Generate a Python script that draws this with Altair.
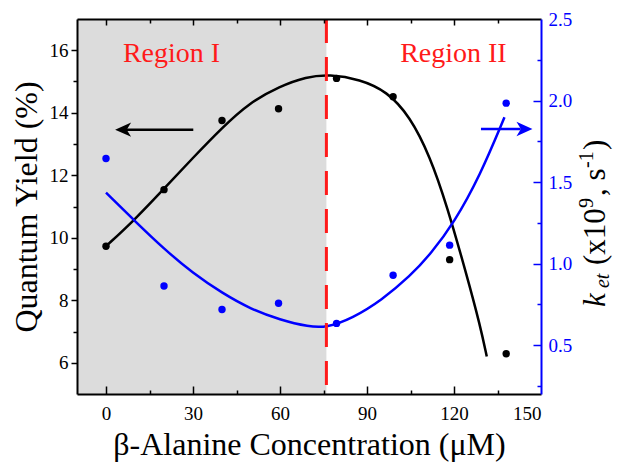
import altair as alt
import pandas as pd

# ---- data ----
conc = [0, 20, 40, 59.5, 79.5, 99, 118.5, 138]
qy = [9.73, 11.54, 13.75, 14.13, 15.10, 14.51, 9.30, 6.29]
ket = [1.644, 0.862, 0.718, 0.757, 0.633, 0.928, 1.113, 1.984]

qy_fit_x = [0, 9.4, 19.8, 30, 40, 49.4, 60, 69, 77, 87.6, 96.8, 104.8, 111.7, 117.5, 124.4, 129, 131.3]
qy_fit_y = [9.73, 10.53, 11.55, 12.56, 13.52, 14.32, 14.85, 15.15, 15.23, 15.07, 14.69, 13.89, 12.61, 11.05, 8.80, 7.20, 6.20]

ket_fit_x = [0, 10, 20, 30, 40, 50, 60, 70, 76, 85, 95, 105, 112, 120, 129, 137.4]
ket_fit_y = [1.435, 1.26, 1.09, 0.94, 0.82, 0.72, 0.655, 0.612, 0.607, 0.665, 0.775, 0.925, 1.06, 1.25, 1.54, 1.897]

boundary = 76            # region I / II boundary (µM)
x_domain = [-10, 150]
yl_domain = [5, 17]
yr_domain = [0.2, 2.5]

region_labels = ["Region I", "Region II"]
region_x = [22.6, 119.8]
region_y = [15.64, 15.64]

arrow_qy_x = [30.1, 6.5]     # line of black arrow (start, end)
arrow_qy_head = [5.9]
arrow_qy_y = [13.46]
arrow_ket_x = [129.3, 143.0]
arrow_ket_head = [144.3]
arrow_ket_y = [1.825]

x_major = [0, 30, 60, 90, 120, 150]
x_minor = [15, 45, 75, 105, 135]
yl_major = [6, 8, 10, 12, 14, 16]
yl_minor = [7, 9, 11, 13, 15]
yr_major = [0.5, 1.0, 1.5, 2.0, 2.5]
yr_minor = [0.25, 0.75, 1.25, 1.75, 2.25]

title_parts = ["k", "et", "(x10", "9", ", s", "-1", ")"]

# ---- tables ----
pts = pd.DataFrame({"x": conc, "qy": qy, "ket": ket})
qfit = pd.DataFrame({"x": qy_fit_x, "y": qy_fit_y})
kfit = pd.DataFrame({"x": ket_fit_x, "y": ket_fit_y})
shade_df = pd.DataFrame({"x0": [x_domain[0]], "x1": [boundary], "y0": [yl_domain[0]], "y1": [yl_domain[1]]})
div_df = pd.DataFrame({"x": [boundary], "y0": [yl_domain[1]], "y1": [yl_domain[0]]})
reg_df = pd.DataFrame({"label": region_labels, "x": region_x, "y": region_y})
aq_df = pd.DataFrame({"x0": [arrow_qy_x[0]], "x1": [arrow_qy_x[1]], "y": arrow_qy_y, "h": arrow_qy_head})
ak_df = pd.DataFrame({"x0": [arrow_ket_x[0]], "x1": [arrow_ket_x[1]], "y": arrow_ket_y, "h": arrow_ket_head})

FONT = "Liberation Serif"
W, H = 464, 375
BLUE = "#0000ff"
RED = "#ff1a1a"

xs = alt.Scale(domain=x_domain, nice=False, zero=False)
yl = alt.Scale(domain=yl_domain, nice=False, zero=False)
yr = alt.Scale(domain=yr_domain, nice=False, zero=False)


def tick_axis(orient, values, size, color="black", offset=None):
    kw = dict(orient=orient, values=values, tickSize=size, tickWidth=1.5,
              tickColor=color, labels=False, domain=False, grid=False,
              title=None, zindex=2)
    if offset is not None:
        kw["offset"] = offset
    return alt.Axis(**kw)


bottom_axis = alt.Axis(orient="bottom", values=x_major, ticks=False, tickSize=0,
                       labelFont=FONT, labelFontSize=19, labelColor="black",
                       labelPadding=10, domainColor="black", domainWidth=2,
                       grid=False, title="β-Alanine Concentration (μM)",
                       titleFont=FONT, titleFontSize=32, titleFontWeight="normal",
                       titleColor="black", titlePadding=6, zindex=2)
left_axis = alt.Axis(orient="left", values=yl_major, tickSize=6, tickWidth=1.5,
                     tickColor="black", labelFont=FONT, labelFontSize=19,
                     labelColor="black", labelPadding=3, domainColor="black",
                     domainWidth=2, grid=False, title="Quantum Yield (%)",
                     titleFont=FONT, titleFontSize=32, titleFontWeight="normal",
                     titleColor="black", titlePadding=6, zindex=2)
right_axis = alt.Axis(orient="right", values=yr_major, format=".1f", ticks=False,
                      tickSize=0, labelFont=FONT, labelFontSize=19, labelColor=BLUE,
                      labelPadding=7, domainColor=BLUE, domainWidth=2, grid=False,
                      title=None, zindex=2)
top_axis = alt.Axis(orient="bottom", offset=-H, values=x_major[:-1], tickSize=6,
                    tickWidth=1.5, tickColor="black", labels=False, domain=True,
                    domainColor="black", domainWidth=2, grid=False, title=None, zindex=2)

shade = alt.Chart(shade_df).mark_rect(color="#dcdcdc").encode(
    x=alt.X("x0:Q", scale=xs, axis=bottom_axis), x2="x1:Q",
    y=alt.Y("y0:Q", scale=yl, axis=left_axis), y2="y1:Q")

qline = alt.Chart(qfit).mark_line(color="black", strokeWidth=2.5, interpolate="basis").encode(
    x=alt.X("x:Q", scale=xs, axis=tick_axis("top", x_minor, 4, offset=-H)),
    y=alt.Y("y:Q", scale=yl, axis=tick_axis("left", yl_minor, 4)))

kline = alt.Chart(kfit).mark_line(color=BLUE, strokeWidth=2.5, interpolate="basis").encode(
    x=alt.X("x:Q", scale=xs, axis=tick_axis("top", x_major[:-1], 8, offset=-H)),
    y=alt.Y("y:Q", scale=yr, axis=right_axis))

divider = alt.Chart(div_df).mark_rule(color=RED, strokeWidth=3, strokeDash=[24, 14]).encode(
    x=alt.X("x:Q", scale=xs, axis=top_axis),
    y=alt.Y("y0:Q", scale=yl, axis=None), y2="y1:Q")

qpts = alt.Chart(pts).mark_circle(color="black", size=55, opacity=1).encode(
    x=alt.X("x:Q", scale=xs, axis=tick_axis("bottom", x_minor, 4, offset=-H)),
    y=alt.Y("qy:Q", scale=yl, axis=None))

kpts = alt.Chart(pts).mark_circle(color=BLUE, size=55, opacity=1).encode(
    x=alt.X("x:Q", scale=xs, axis=None),
    y=alt.Y("ket:Q", scale=yr, axis=tick_axis("left", yr_major[:-1], 8, color=BLUE, offset=-W)))

aq_line = alt.Chart(aq_df).mark_rule(color="black", strokeWidth=2.5).encode(
    x=alt.X("x0:Q", scale=xs, axis=None), x2="x1:Q",
    y=alt.Y("y:Q", scale=yl, axis=None))
aq_head = alt.Chart(aq_df).mark_point(
    shape="M -1 0 L 1 -0.9 L 0.45 0 L 1 0.9 Z", filled=True, size=256,
    color="black", opacity=1, strokeWidth=0).encode(
    x=alt.X("h:Q", scale=xs, axis=None),
    y=alt.Y("y:Q", scale=yl, axis=None))

ak_line = alt.Chart(ak_df).mark_rule(color=BLUE, strokeWidth=2.5).encode(
    x=alt.X("x0:Q", scale=xs, axis=None), x2="x1:Q",
    y=alt.Y("y:Q", scale=yr, axis=tick_axis("left", yr_minor, 4, color=BLUE, offset=-W)))
ak_head = alt.Chart(ak_df).mark_point(
    shape="M 1 0 L -1 -0.9 L -0.45 0 L -1 0.9 Z", filled=True, size=256,
    color=BLUE, opacity=1, strokeWidth=0).encode(
    x=alt.X("h:Q", scale=xs, axis=None),
    y=alt.Y("y:Q", scale=yr, axis=None))

regions = alt.Chart(reg_df).mark_text(font=FONT, fontSize=28, color=RED,
                                      align="center", baseline="alphabetic").encode(
    x=alt.X("x:Q", scale=xs, axis=None),
    y=alt.Y("y:Q", scale=yl, axis=None),
    text="label:N")

# right-hand axis title  k_et (x10^9, s^-1), composed of rotated pieces
# anchors are the upper ends of each rotated piece (align="right")
title_layout = [  # (x px, y px, size, italic)
    (528, 274.2, 31, True),
    (532, 254.6, 20, True),
    (528, 189.2, 31, False),
    (516, 179.0, 20, False),
    (528, 149.4, 31, False),
    (516, 132.3, 20, False),
    (528, 120.7, 31, False),
]
title_layers = []
one = pd.DataFrame({"d": [0]})
for txt, (px, py, fs, it) in zip(title_parts, title_layout):
    kw = dict(text=txt, font=FONT, fontSize=fs, color="black", angle=270,
              align="right", baseline="alphabetic")
    if it:
        kw["fontStyle"] = "italic"
    title_layers.append(alt.Chart(one).mark_text(**kw).encode(
        x=alt.value(px), y=alt.value(py)))

chart = alt.layer(
    shade, qline, kline, divider, qpts, kpts, aq_line, aq_head, ak_line, ak_head,
    regions, *title_layers
).resolve_scale(y="independent").resolve_axis(
    x="independent", y="independent"
).properties(
    width=W, height=H,
    padding={"left": 69, "top": 11, "right": 73, "bottom": 70},
    autosize=alt.AutoSizeParams(type="none"),
).configure_view(stroke=None)

chart.save("out.html", embed_options={"renderer": "svg", "actions": False})
